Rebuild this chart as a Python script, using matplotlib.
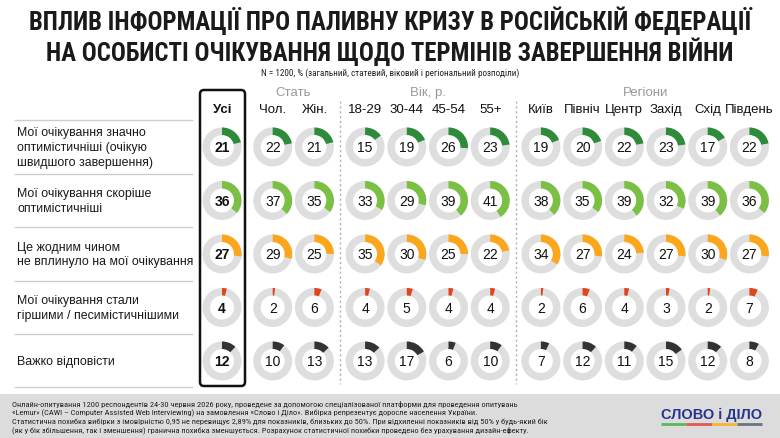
import matplotlib
matplotlib.use('Agg')
import matplotlib.pyplot as plt
from matplotlib.patches import Wedge, Rectangle, FancyBboxPatch
from matplotlib import font_manager
from matplotlib.font_manager import FontProperties

# дані
kolonky = ['Усі', 'Чол.', 'Жін.', '18-29', '30-44', '45-54', '55+',
           'Київ', 'Північ', 'Центр', 'Захід', 'Схід', 'Південь']
hrupy = ['', 'Стать', 'Вік, р.', 'Регіони']
rozmiry_hrup = [1, 2, 4, 6]

vidpovidi = ['Мої очікування значно\nоптимістичніші (очікую\nшвидшого завершення)',
             'Мої очікування скоріше\nоптимістичніші',
             'Це жодним чином\nне вплинуло на мої очікування',
             'Мої очікування стали\nгіршими / песимістичнішими',
             'Важко відповісти']

znachno_opt = [21, 22, 21, 15, 19, 26, 23, 19, 20, 22, 23, 17, 22]
skorishe_opt = [36, 37, 35, 33, 29, 39, 41, 38, 35, 39, 32, 39, 36]
ne_vplynulo = [27, 29, 25, 35, 30, 25, 22, 34, 27, 24, 27, 30, 27]
hirshymy = [4, 2, 6, 4, 5, 4, 4, 2, 6, 4, 3, 2, 7]
vazhko = [12, 10, 13, 13, 17, 6, 10, 7, 12, 11, 15, 12, 8]

ryadky = [znachno_opt, skorishe_opt, ne_vplynulo, hirshymy, vazhko]
kolory = ['#2e8b3a', '#7cbf45', '#fca61c', '#e0451e', '#333333']

nazva = ('ВПЛИВ ІНФОРМАЦІЇ ПРО ПАЛИВНУ КРИЗУ В РОСІЙСЬКІЙ ФЕДЕРАЦІЇ\n'
         'НА ОСОБИСТІ ОЧІКУВАННЯ ЩОДО ТЕРМІНІВ ЗАВЕРШЕННЯ ВІЙНИ')
pidnazva = 'N = 1200, % (загальний, статевий, віковий і регіональний розподіли)'
prymitka = ('Онлайн-опитування 1200 респондентів 24-30 червня 2026 року, проведене за допомогою спеціалізованої платформи для проведення опитувань\n'
            '«Lemur» (CAWI – Computer Assisted Web Interviewing) на замовлення «Слово і Діло». Вибірка репрезентує доросле населення України.\n'
            'Статистична похибка вибірки з імовірністю 0,95 не перевищує 2,89% для показників, близьких до 50%. При відхиленні показників від 50% у будь-який бік\n'
            '(як у бік збільшення, так і зменшення) гранична похибка зменшується. Розрахунок статистичної похибки проведено без урахування дизайн-ефекту.')

plt.rcParams['font.family'] = ['Liberation Sans', 'DejaVu Sans']


# вузький шрифт, якщо є
def znaity_vuzkyi(bold):
    kandydaty = []
    for f in font_manager.fontManager.ttflist:
        imya = f.name
        vuzkyi = ('Narrow' in imya or 'Condensed' in imya or
                  str(f.stretch) in ('condensed', 'semi-condensed', '75', '87.5') or
                  'Condensed' in f.fname or 'Narrow' in f.fname)
        if not vuzkyi:
            continue
        if imya not in ('Liberation Sans Narrow', 'DejaVu Sans', 'DejaVu Sans Condensed',
                        'Roboto Condensed', 'Open Sans', 'Open Sans Condensed', 'Noto Sans',
                        'Roboto', 'Arial Narrow', 'Noto Sans Condensed'):
            continue
        if 'Oblique' in f.fname or 'Italic' in f.fname or f.style != 'normal':
            continue
        wb = f.weight if isinstance(f.weight, int) else (700 if f.weight == 'bold' else 400)
        if bold and wb < 600:
            continue
        if not bold and wb >= 600:
            continue
        kandydaty.append(f)
    pri = ['Liberation Sans Narrow', 'Arial Narrow', 'Roboto Condensed', 'Open Sans',
           'Open Sans Condensed', 'Noto Sans', 'DejaVu Sans Condensed', 'DejaVu Sans', 'Roboto']
    kandydaty.sort(key=lambda f: pri.index(f.name) if f.name in pri else 99)
    if kandydaty:
        return FontProperties(fname=kandydaty[0].fname)
    return FontProperties(family='Liberation Sans', weight='bold' if bold else 'normal')


fp_bold = znaity_vuzkyi(True)
fp_norm = znaity_vuzkyi(False)

W, H = 780, 439
fig = plt.figure(figsize=(W / 100, H / 100), dpi=100)
ax = fig.add_axes([0, 0, 1, 1])
ax.set_xlim(0, W)
ax.set_ylim(H, 0)
ax.axis('off')
renderer = fig.canvas.get_renderer()


def pidihnaty(t, shyryna):
    # підбираємо розмір шрифту під ширину з оригіналу
    for _ in range(3):
        b = t.get_window_extent(renderer)
        t.set_fontsize(t.get_fontsize() * shyryna / b.width)


# положення колонок
krok = 41.7
promizhok = 9
xs = []
x = 222
for g, n in enumerate(rozmiry_hrup):
    for k in range(n):
        xs.append(x)
        x += krok
    x += promizhok
ys = [148, 201.5, 255, 308.5, 362]

# заголовок
t = ax.text(W / 2, 36, nazva, ha='center', va='center', fontproperties=fp_bold,
            color='#1a1a1a', linespacing=1.12)
t.set_fontsize(18)
pidihnaty(t, 722)
t = ax.text(W / 2, 73, pidnazva, ha='center', va='center', fontproperties=fp_norm,
            color='#222222')
t.set_fontsize(7)
pidihnaty(t, 256)

# підписи груп та колонок
start = 0
for g, n in enumerate(rozmiry_hrup):
    if hrupy[g]:
        xc = (xs[start] + xs[start + n - 1]) / 2
        ax.text(xc, 93, hrupy[g], ha='center', va='center', fontsize=9.5, color='#999999')
    start += n
for i, k in enumerate(kolonky):
    ax.text(xs[i], 110, k, ha='center', va='center', fontsize=9.5,
            fontweight='bold' if i == 0 else 'normal', color='#111111')

# розділювачі
for a, b in [(6, 7), (2, 3)]:
    xd = (xs[a] + xs[b]) / 2
    ax.plot([xd, xd], [102, 385], color='#b0b0b0', lw=1, ls=(0, (1.5, 2)))

# рядки зліва
for yl in [121, 174.5, 228, 281.5, 335, 388]:
    ax.plot([15, 192], [yl, yl], color='#cccccc', lw=1)
for j, tx in enumerate(vidpovidi):
    ax.text(17, ys[j], tx, ha='left', va='center', fontsize=8.9, color='#1a1a1a',
            linespacing=1.3)

# кільця (вісь y перевернута, тому кут -90 - це верх, а зростання кута - за годинниковою)
R, w = 19.5, 7.5
for j, row in enumerate(ryadky):
    for i, v in enumerate(row):
        ax.add_patch(Wedge((xs[i], ys[j]), R, 0, 360, width=w, color='#dedede', lw=0))
        ax.add_patch(Wedge((xs[i], ys[j]), R, -90, -90 + 3.6 * v, width=w,
                           color=kolory[j], lw=0))
        ax.text(xs[i], ys[j] + 0.5, str(v), ha='center', va='center', fontsize=10,
                fontweight='bold' if i == 0 else 'normal', color='#111111')

# рамка навколо "Усі"
ax.add_patch(FancyBboxPatch((200, 91), 45, 296, boxstyle='round,pad=0,rounding_size=4',
                            fill=False, ec='#111111', lw=1.8))

# нижня плашка
ax.add_patch(Rectangle((0, 395), W, H - 395, color='#dcdcdc', lw=0))
t = ax.text(12, 417.5, prymitka, ha='left', va='center', fontproperties=fp_norm,
            color='#222222', linespacing=1.25)
t.set_fontsize(5.6)
pidihnaty(t, 536)

# логотип
t = ax.text(711.5, 415, 'СЛОВО і ДІЛО', ha='center', va='center', fontsize=12,
            fontweight='bold', color='#27348b')
pidihnaty(t, 101)
for c, (x0, x1) in zip(['#5cb85c', '#e05a4f', '#f5b731', '#6b7280'],
                       [(661, 686), (686, 712), (712, 737), (737, 762)]):
    ax.plot([x0, x1], [425, 425], color=c, lw=2, solid_capstyle='butt')

fig.savefig('out.png', dpi=100)
